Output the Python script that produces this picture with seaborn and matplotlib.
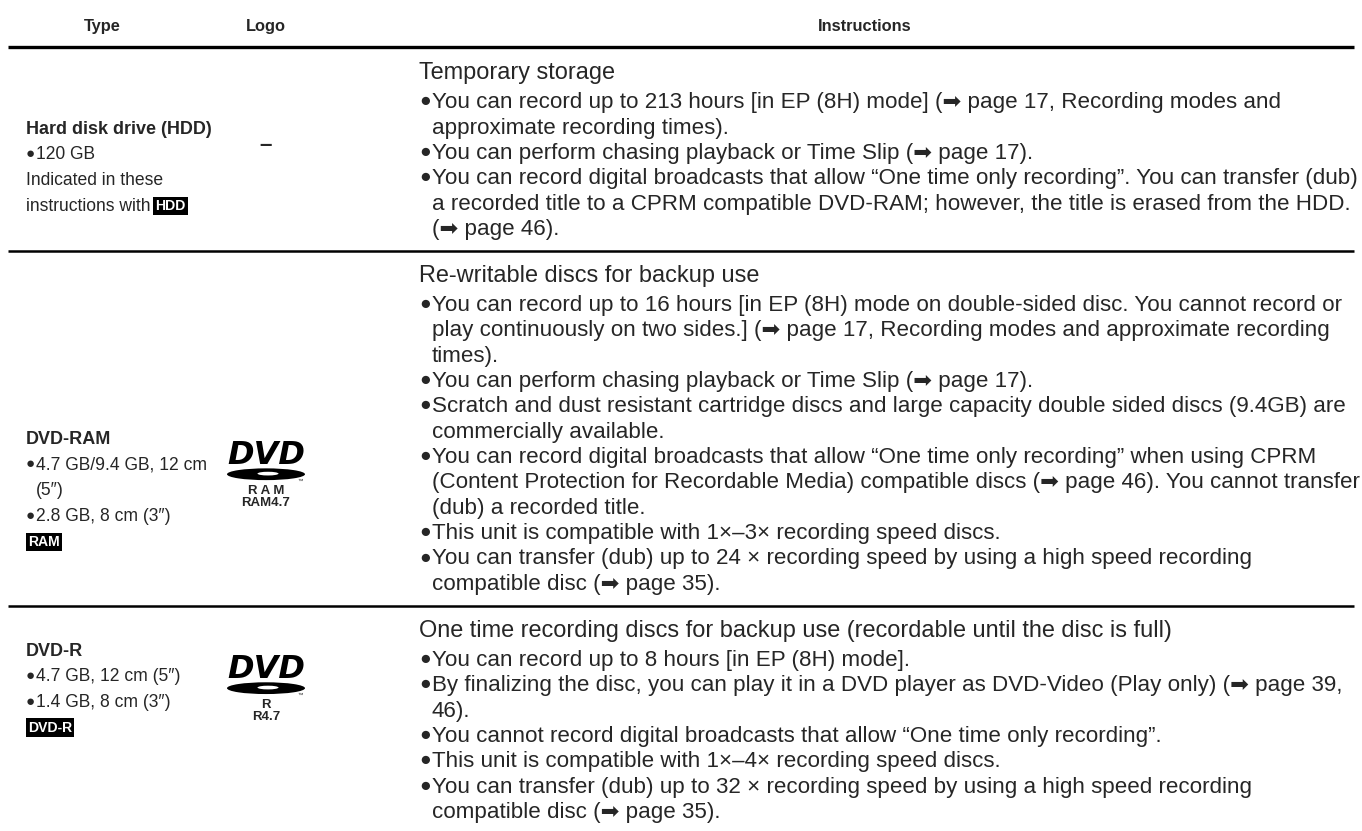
import matplotlib
matplotlib.use('Agg')
import matplotlib.pyplot as plt
from matplotlib.patches import Ellipse
import seaborn as sns

# ---- table content -------------------------------------------------------
header_labels = ['Type', 'Logo', 'Instructions']

type_titles = ['Hard disk drive (HDD)', 'DVD-RAM', 'DVD-R']
type_lines = [
    ['●120 GB', 'Indicated in these', 'instructions with'],
    ['●4.7 GB/9.4 GB, 12 cm', ' (5″)', '●2.8 GB, 8 cm (3″)'],
    ['●4.7 GB, 12 cm (5″)', '●1.4 GB, 8 cm (3″)'],
]
type_marks = ['HDD', 'RAM', 'DVD-R']
mark_inline = [True, False, False]

logo_sub = [None, ['R A M', 'RAM4.7'], ['R', 'R4.7']]

headings = [
    'Temporary storage',
    'Re-writable discs for backup use',
    'One time recording discs for backup use (recordable until the disc is full)',
]

instructions = [
    ['●You can record up to 213 hours [in EP (8H) mode] (➡ page 17, Recording modes and',
     'approximate recording times).',
     '●You can perform chasing playback or Time Slip (➡ page 17).',
     '●You can record digital broadcasts that allow “One time only recording”. You can transfer (dub)',
     'a recorded title to a CPRM compatible DVD-RAM; however, the title is erased from the HDD.',
     '(➡ page 46).'],
    ['●You can record up to 16 hours [in EP (8H) mode on double-sided disc. You cannot record or',
     'play continuously on two sides.] (➡ page 17, Recording modes and approximate recording',
     'times).',
     '●You can perform chasing playback or Time Slip (➡ page 17).',
     '●Scratch and dust resistant cartridge discs and large capacity double sided discs (9.4GB) are',
     'commercially available.',
     '●You can record digital broadcasts that allow “One time only recording” when using CPRM',
     '(Content Protection for Recordable Media) compatible discs (➡ page 46). You cannot transfer',
     '(dub) a recorded title.',
     '●This unit is compatible with 1×–3× recording speed discs.',
     '●You can transfer (dub) up to 24 × recording speed by using a high speed recording',
     'compatible disc (➡ page 35).'],
    ['●You can record up to 8 hours [in EP (8H) mode].',
     '●By finalizing the disc, you can play it in a DVD player as DVD-Video (Play only) (➡ page 39,',
     '46).',
     '●You cannot record digital broadcasts that allow “One time only recording”.',
     '●This unit is compatible with 1×–4× recording speed discs.',
     '●You can transfer (dub) up to 32 × recording speed by using a high speed recording',
     'compatible disc (➡ page 35).'],
]

# ---- layout (pixel-ish units, y squeezed into HP) -------------------------
W, HP = 1362, 672
row_lines = [38, 203, 490]
heading_y = [57, 221, 508]
body_y0 = [81, 245, 532]
body_step = 20.5
left_y0 = [103, 354, 525]
left_step = 20.7
logo_y = [118, 368, 541]
col_x = [26, 266, 419]
hdr_x = [102, 266, 865]

sns.set_theme(style='white')
plt.rcParams['font.family'] = ['Liberation Sans', 'DejaVu Sans']

fig = plt.figure(figsize=(13.62, 8.31), dpi=100)
ax = fig.add_axes([0, 0, 1, 1])
ax.set_xlim(0, W)
ax.set_ylim(HP, 0)
ax.axis('off')
renderer = fig.canvas.get_renderer()


def text_width(s, size, **kw):
    t = ax.text(0, 0, s, fontsize=size, **kw)
    w = t.get_window_extent(renderer).width
    t.remove()
    return w


def fit_size(s, width, **kw):
    return 10 * width / text_width(s, 10, **kw)


hdr_fs = fit_size('Instructions', 94, weight='bold')
body_fs = fit_size(instructions[0][4], 918)
head_fs = fit_size(headings[2], 755)
left_fs = fit_size('Indicated in these', 138)
title_fs = fit_size('Hard disk drive (HDD)', 187, weight='bold')


def bullet_adv(fs):
    return fs * 100 / 72 * 0.58


def draw_line(x, y, line, fs, indent=True):
    # bullet drawn a touch smaller than the text, as in the printed manual
    if line.startswith('●'):
        ax.text(x, y - 0.3, '●', fontsize=fs * 0.86, va='center_baseline')
        ax.text(x + bullet_adv(fs), y, line[1:], fontsize=fs,
                va='center_baseline')
    else:
        ax.text(x + (bullet_adv(fs) if indent else 0), y, line, fontsize=fs,
                va='center_baseline')


# header
for x, lab in zip(hdr_x, header_labels):
    ax.text(x, 20, lab, fontsize=hdr_fs, weight='bold',
            ha='center', va='center_baseline')

# horizontal rules
for i, y in enumerate(row_lines):
    ax.plot([8, 1354], [y, y], color='black', lw=2.4 if i == 0 else 1.8,
            solid_capstyle='butt')

badge = dict(boxstyle='square,pad=0.15', facecolor='black', edgecolor='none')


def draw_logo(cx, cy, sub):
    ax.text(cx, cy, 'DVD', fontsize=23, weight='heavy', style='italic',
            family='DejaVu Sans', ha='center', va='center', color='black')
    ax.add_patch(Ellipse((cx, cy + 15.5), 78, 9.5, color='black', lw=0))
    ax.add_patch(Ellipse((cx + 2, cy + 15), 21, 3, color='white', lw=0))
    ax.text(cx + 34, cy + 21, '™', fontsize=4, ha='center', va='center')
    ax.text(cx, cy + 29, sub[0], fontsize=9.5, weight='bold',
            ha='center', va='center')
    ax.text(cx, cy + 38.5, sub[1], fontsize=9.5, weight='bold',
            ha='center', va='center')


for r in range(3):
    # type column
    y = left_y0[r]
    ax.text(col_x[0], y, type_titles[r], fontsize=title_fs, weight='bold',
            va='center_baseline')
    for line in type_lines[r]:
        y += left_step
        draw_line(col_x[0], y, line.strip(), left_fs,
                  indent=line.startswith(' '))
    if mark_inline[r]:
        w = text_width(type_lines[r][-1] + ' ', left_fs)
        ax.text(col_x[0] + w, y, type_marks[r], fontsize=left_fs * 0.8,
                weight='bold', color='white', va='center_baseline', bbox=badge)
    else:
        y += left_step
        ax.text(col_x[0] + 2, y, type_marks[r], fontsize=left_fs * 0.8,
                weight='bold', color='white', va='center_baseline', bbox=badge)

    # logo column
    if logo_sub[r] is None:
        ax.text(col_x[1], logo_y[r], '–', fontsize=body_fs, weight='bold',
                ha='center', va='center')
    else:
        draw_logo(col_x[1], logo_y[r], logo_sub[r])

    # instructions column
    ax.text(col_x[2], heading_y[r], headings[r], fontsize=head_fs,
            va='center_baseline')
    for k, line in enumerate(instructions[r]):
        draw_line(col_x[2], body_y0[r] + k * body_step, line, body_fs)

fig.savefig('out.png', dpi=100, facecolor='white')
